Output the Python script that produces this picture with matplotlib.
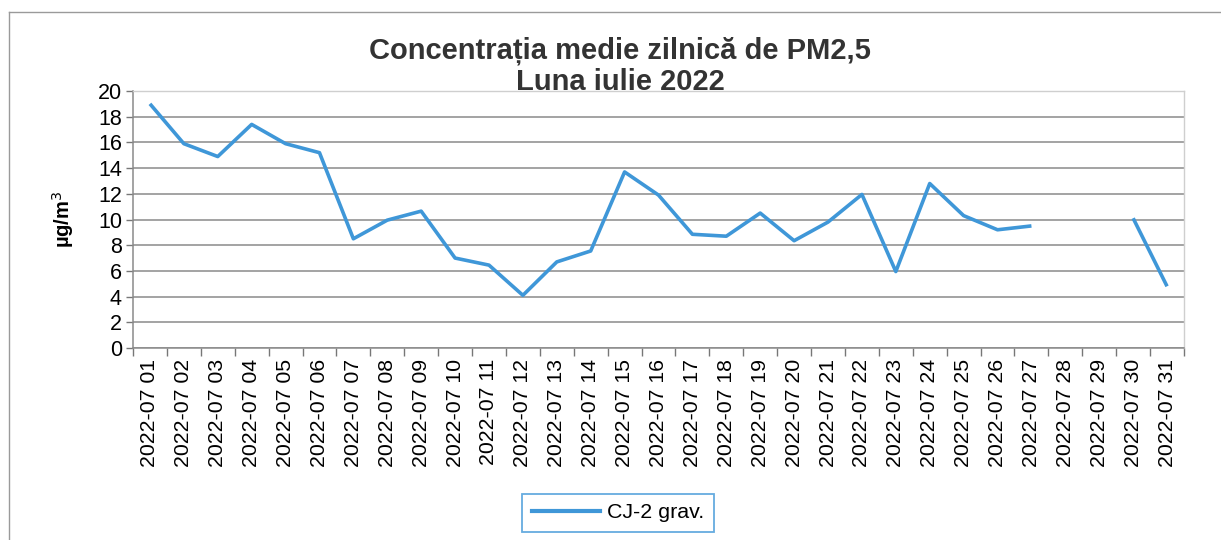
import numpy as np
import matplotlib
matplotlib.use("Agg")
import matplotlib.pyplot as plt
from matplotlib.lines import Line2D

plt.rcParams['font.family'] = ['Liberation Sans', 'DejaVu Sans']

dates = [f"2022-07 {d:02d}" for d in range(1, 32)]
values = [19.0, 15.9, 14.9, 17.4, 15.9, 15.2, 8.5, 9.95, 10.65, 7.0,
          6.45, 4.1, 6.7, 7.55, 13.7, 11.9, 8.85, 8.7, 10.5, 8.35,
          9.8, 11.95, 5.95, 12.8, 10.3, 9.2, 9.5, np.nan, np.nan, 10.1, 4.8]
series_name = "CJ-2 grav."
title = "Concentrația medie zilnică de PM2,5\nLuna iulie 2022"
ylabel = "µg/m$^3$"

fig = plt.figure(figsize=(12.21, 5.40), dpi=100)
ax = fig.add_axes([133/1221, 1-348/540, (1184-133)/1221, (348-91)/540])

x = np.arange(len(dates))
line_color = "#3f97d8"
ax.plot(x, values, color=line_color, lw=2.6, solid_joinstyle='round', solid_capstyle='butt')

ax.set_xlim(-0.5, len(dates) - 0.5)
ax.set_ylim(0, 20)
ax.set_yticks(np.arange(0, 21, 2))
ax.set_yticklabels([str(v) for v in range(0, 21, 2)], fontsize=15.5)
ax.set_xticks(x)
ax.set_xticklabels(dates, rotation=90, fontsize=15.3)
ax.tick_params(axis='x', length=0, pad=8)
ax.set_xticks(np.arange(-0.5, len(dates), 1), minor=True)
ax.tick_params(axis='x', which='minor', length=6, width=1, color='#777777', direction='out')
ax.tick_params(axis='y', length=5, width=1, color='#777777', direction='out', pad=3)

ax.grid(axis='y', color='#8a8a8a', lw=1.1)
ax.set_axisbelow(True)
for side in ['top', 'right']:
    ax.spines[side].set_color('#cfcfcf')
    ax.spines[side].set_linewidth(1)
for side in ['left', 'bottom']:
    ax.spines[side].set_color('#8a8a8a')
    ax.spines[side].set_linewidth(1.1)

ax.set_ylabel(ylabel, fontsize=14.5, fontweight='bold', labelpad=16)

fig.text(620/1221, 1 - 66/540, title, ha='center', va='center', fontsize=21,
         fontweight='bold', color='#333333', linespacing=1.15)

handle = Line2D([0], [0], color=line_color, lw=3)
leg = fig.legend([handle], [series_name], loc='center', bbox_to_anchor=(618/1221, 1 - 513/540),
                 fontsize=15.4, frameon=True, fancybox=False, handlelength=3.2, handletextpad=0.3,
                 borderpad=0.45, borderaxespad=0)
leg.get_frame().set_edgecolor(line_color)
leg.get_frame().set_linewidth(1.3)

# scanned page frame
fig.add_artist(Line2D([9/1221, 1.0], [1 - 12/540, 1 - 12/540], color='#9a9a9a', lw=1, transform=fig.transFigure))
fig.add_artist(Line2D([9/1221, 9/1221], [0, 1 - 12/540], color='#9a9a9a', lw=1, transform=fig.transFigure))

fig.savefig("out.png", dpi=100)
